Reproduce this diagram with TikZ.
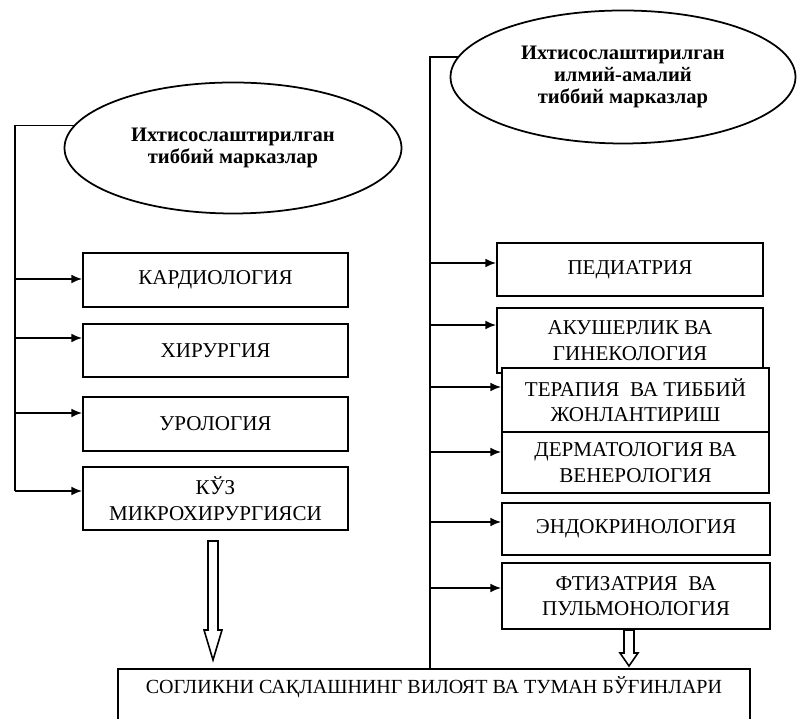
\documentclass[tikz,border=0pt]{standalone}
\usepackage{fontspec}
\setmainfont{Liberation Serif}
\usetikzlibrary{arrows.meta, positioning, calc, shapes.geometric}

% hollow block arrow: from, to, head length
\newcommand\blockarrow[3]{%
  \draw[line width=0.9pt, fill=white] let \p1=(#1), \p2=(#2) in
    (\x1-0.1cm,\y1) -- (\x1-0.1cm,\y2+#3) -- (\x1-0.18cm,\y2+#3) -- (\x1,\y2)
    -- (\x1+0.18cm,\y2+#3) -- (\x1+0.1cm,\y2+#3) -- (\x1+0.1cm,\y1) -- cycle;}

\begin{document}
\begin{tikzpicture}[
    line width=1pt,
    every node/.style={font=\fontsize{12}{14.5}\selectfont},
    centre/.style={ellipse, draw, line width=1pt, align=center, inner sep=0pt,
        font=\fontsize{11.7}{12.7}\selectfont\bfseries},
    dept/.style={draw, line width=1.1pt, fill=white, align=center, inner sep=0pt},
    feed/.style={line width=1pt, -{Latex[length=6pt, width=5pt]}},
]

\clip (0,0) rectangle (15.96,14.38);

% ---------------------------------------------------------------- centres
\node[centre, minimum width=6.74cm, minimum height=2.62cm] (lc) at (4.66, 11.42)
    {Ихтисослаштирилган\\тиббий марказлар};
\node[centre, minimum width=6.90cm, minimum height=2.66cm] (rc) at (12.46, 12.84)
    {Ихтисослаштирилган\\илмий-амалий\\тиббий марказлар};

% ---------------------------------------------------------------- left column
\foreach \n/\y/\h/\t in {k1/8.78/1.08/КАРДИОЛОГИЯ, k2/7.37/1.06/ХИРУРГИЯ,
        k3/5.90/1.08/УРОЛОГИЯ, k4/4.41/1.26/КЎЗ\\МИКРОХИРУРГИЯСИ}{
    \node[dept, minimum width=5.30cm, minimum height=\h cm] (\n) at (4.31, \y) {\t};
}

\coordinate (ak4) at (0.30, 4.56);
\draw (lc.172) -| (ak4);
\foreach \n/\y in {k1/8.80, k2/7.62, k3/6.12, k4/4.56}{
    \coordinate (a\n) at (0.30, \y);
    \draw[feed] (a\n) -- (a\n -| \n.west);
}

% ---------------------------------------------------------------- right column
\foreach \n/\x/\y/\w/\h/\t in {
        p1/12.60/8.99/5.32/1.06/ПЕДИАТРИЯ,
        p2/12.60/7.57/5.32/1.30/АКУШЕРЛИК ВА\\ГИНЕКОЛОГИЯ,
        p3/12.71/6.38/5.34/1.28/ТЕРАПИЯ\ \ ВА ТИББИЙ\\ЖОНЛАНТИРИШ,
        p4/12.71/5.13/5.34/1.22/ДЕРМАТОЛОГИЯ ВА\\ВЕНЕРОЛОГИЯ,
        p5/12.72/3.80/5.36/1.04/ЭНДОКРИНОЛОГИЯ,
        p6/12.72/2.46/5.36/1.32/ФТИЗАТРИЯ\ \ ВА\\ПУЛЬМОНОЛОГИЯ}{
    \node[dept, minimum width=\w cm, minimum height=\h cm] (\n) at (\x, \y) {\t};
}

% ---------------------------------------------------------------- base
\node[dept, anchor=north, minimum width=12.64cm, text height=0.50cm, text depth=1.2cm,
    font=\fontsize{11.4}{14}\selectfont]
    (base) at (8.68, 1.02) {СОГЛИКНИ САҚЛАШНИНГ ВИЛОЯТ ВА ТУМАН БЎҒИНЛАРИ};

\coordinate (rbus) at (8.60, 1.02);
\draw (rc.173) -| (rbus);
\foreach \n/\y in {p1/9.12, p2/7.88, p3/6.64, p4/5.34, p5/3.94, p6/2.62}{
    \coordinate (a\n) at (8.60, \y);
    \draw[feed] (a\n) -- (a\n -| \n.west);
}

\blockarrow{[xshift=-0.05cm, yshift=-0.2cm]k4.south}{[yshift=0.16cm]base.north}{0.6cm}
\blockarrow{[xshift=-0.14cm]p6.south}{[yshift=0.04cm]base.north}{0.26cm}

\end{tikzpicture}
\end{document}
